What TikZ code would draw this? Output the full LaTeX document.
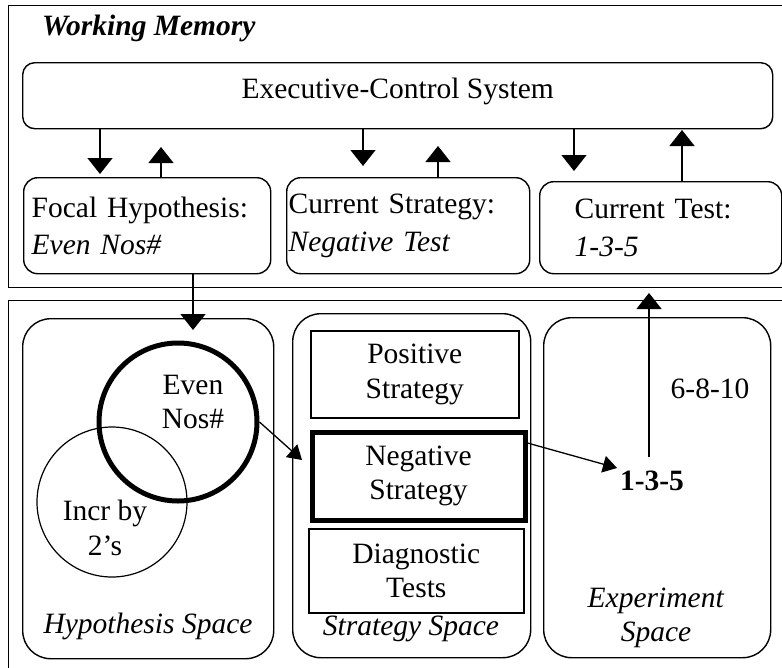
\documentclass[tikz,border=0pt]{standalone}
\usepackage{fontspec}
\setmainfont{Liberation Serif}
\usetikzlibrary{arrows.meta,calc}
\begin{document}
\begin{tikzpicture}[x=1pt,y=-1pt,
  every node/.style={font=\fontsize{29.5}{34.5}\selectfont, inner sep=0pt},
  frame/.style={draw, line width=1.4pt, anchor=north west},
  rbox/.style={draw, line width=1.4pt, rounded corners=14pt, anchor=north west},
  wbox/.style={rbox, align=left, font=\fontsize{29.5}{37.5}\selectfont},
  sbox/.style={draw, line width=1.4pt, rounded corners=28pt, anchor=north west},
  pbox/.style={draw, line width=1.6pt, anchor=north west, align=center},
  arr/.style={line width=1.3pt, -{Triangle[width=25pt,length=16pt]}},
  sarr/.style={line width=1.3pt, -{Triangle[width=17pt,length=14pt]}},
  lbl/.style={align=center}]
\useasboundingbox (0,0) rectangle (782,667);
\clip (0,0) rectangle (782,667);
% frames
\node[frame, minimum width=790pt, minimum height=282pt] (wm) at (8,5) {};
\node[anchor=base west, font=\fontsize{29.5}{34}\selectfont\bfseries\itshape] (wmt) at (42,35) {Working Memory};
\node[rbox, rounded corners=12pt, minimum width=750pt, minimum height=66pt, text height=20pt, text depth=15pt] (exec) at (22,62) {Executive-Control System};
\node[wbox, text width=231pt, inner xsep=8pt, minimum height=96pt] (focal) at (23,177) {Focal Hypothesis:\\\textit{Even Nos\#}};
\node[wbox, text width=239pt, inner xsep=2pt, minimum height=96pt] (strat) at (286,177) {Current Strategy:\\\textit{Negative Test}};
\node[wbox, text width=172pt, inner xsep=35pt, minimum height=92pt] (test) at (539,181) {Current Test:\\\textit{1-3-5}};
\node[frame, minimum width=790pt, minimum height=380pt] (lower) at (8,300) {};
% spaces
\node[sbox, minimum width=251pt, minimum height=340pt] (hyp) at (22,318) {};
\node[sbox, minimum width=238pt, minimum height=344pt] (strsp) at (292,313) {};
\node[sbox, minimum width=227pt, minimum height=340pt] (exp) at (543,317) {};
% strategies
\node[pbox, minimum width=208pt, minimum height=87pt] (pos) at (310,330) {Positive\\Strategy};
\node[pbox, line width=5pt, minimum width=213pt, minimum height=88pt] (neg) at (309.5,429.5) {Negative\\Strategy};
\node[pbox, minimum width=215pt, minimum height=84pt] (diag) at (308,528) {Diagnostic\\Tests};
% circles
\node[draw, circle, line width=1.2pt, minimum size=150pt] (incr) at (112,502) {};
\node[draw, circle, line width=5pt, minimum size=158pt] (even) at (178,422) {};
% texts
\node[lbl] (event) at (193,402) {Even\\Nos\#};
\node[lbl] (incrt) at (105,528) {Incr by\\2’s};
\node[lbl, anchor=base] (hypt) at (148,633) {\textit{Hypothesis Space}};
\node[lbl, anchor=base] (strt) at (411,635) {\textit{Strategy Space}};
\node[lbl] (expt) at (656,618) {\textit{Experiment}\\\textit{Space}};
\node[lbl, anchor=base] (t6810) at (710,398) {6-8-10};
\node[lbl, anchor=base, font=\fontsize{29.5}{34}\selectfont\bfseries] (t135) at (652,490) {1-3-5};
% arrows
\coordinate (d1) at (100,174); \draw[arr] (exec.south -| d1) -- (d1);
\coordinate (u1) at (161,147); \draw[arr] (focal.north -| u1) -- (u1);
\coordinate (d2) at (363,166); \draw[arr] (exec.south -| d2) -- (d2);
\coordinate (u2) at (438,146); \draw[arr] (strat.north -| u2) -- (u2);
\coordinate (d3) at (574,171); \draw[arr] (exec.south -| d3) -- (d3);
\coordinate (u3) at (682,130); \draw[arr] (test.north -| u3) -- (u3);
\coordinate (d4) at (193,330); \draw[arr] (focal.south -| d4) -- (d4);
\coordinate (hn) at (302,460); \draw[sarr] (even.east) -- (hn);
\coordinate (ns) at (525,443); \coordinate (nt) at (617,468);
\draw[sarr] (ns -| neg.east) -- (nt);
\coordinate (us) at (649,457); \coordinate (ut) at (649,293);
\draw[arr] (us) -- (ut);
\end{tikzpicture}
\end{document}
